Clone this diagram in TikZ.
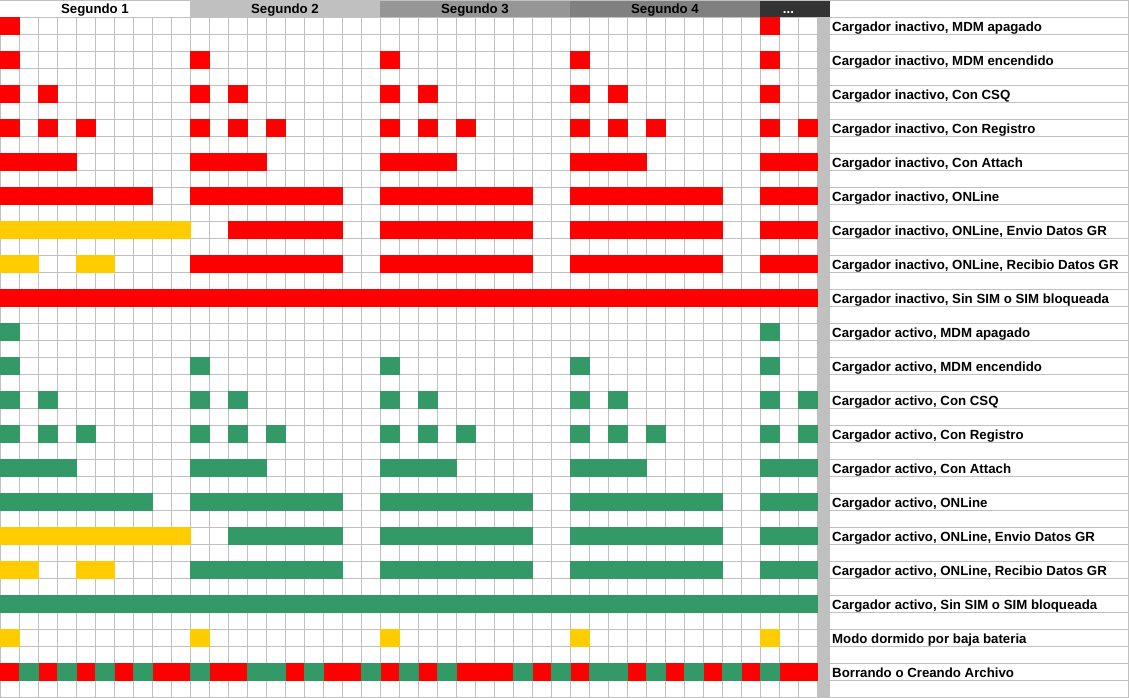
\documentclass[tikz,border=0pt]{standalone}
\usepackage{fontspec}
\setmainfont{Liberation Sans}
\definecolor{gridgray}{HTML}{C0C0C0}
\definecolor{segB}{HTML}{C0C0C0}
\definecolor{segC}{HTML}{969696}
\definecolor{segD}{HTML}{808080}
\definecolor{segX}{HTML}{333333}
\definecolor{cred}{HTML}{FF0000}
\definecolor{cgreen}{HTML}{339966}
\definecolor{cyellow}{HTML}{FFCC00}
% fill a run of cells: {colour}{state row}{first column}{last column}
\newcommand\cellrun[4]{\fill[#1] ({19*(#3)},{17+34*(#2)}) rectangle ({19*(#4+1)+1},{35+34*(#2)});}
\begin{document}
\begin{tikzpicture}[x=1bp,y=-1bp,
  gridline/.style={draw=gridgray,line width=1bp},
  hdr/.style={anchor=base,inner sep=0pt,font=\fontsize{13.3}{16}\selectfont\bfseries},
  lbl/.style={anchor=base west,inner sep=0pt,font=\fontsize{13.3}{16}\selectfont\bfseries}]
\useasboundingbox (0,0) rectangle (1129,698);
\fill[white] (0,0) rectangle (1129,698);

% header band
\fill[segB] (190,0) rectangle (380,17);
\fill[segC] (380,0) rectangle (570,17);
\fill[segD] (570,0) rectangle (760,17);
\fill[segX] (760,0) rectangle (830,17);

% separator bar between timeline and legend
\fill[gridgray] (817,17) rectangle (830,698);

% grid lines
\foreach \k in {0,...,43} \draw[gridline] ({19*\k+0.5},17) -- ({19*\k+0.5},698);
\foreach \j in {1,...,41} {
  \draw[gridline] (0,{17*\j+0.5}) -- (818,{17*\j+0.5});
  \draw[gridline] (830,{17*\j+0.5}) -- (1129,{17*\j+0.5});
}
\draw[gridline] (0,0.5) -- (1129,0.5);
\draw[gridline] (1128.5,0) -- (1128.5,698);

% charger inactive (red) and charger active (green) states
\foreach \base/\c in {0/cred, 9/cgreen} {
  % MDM apagado
  \cellrun{\c}{\base}{0}{0}
  \cellrun{\c}{\base}{40}{40}
  % MDM encendido
  \foreach \s in {0,10,20,30,40} {\cellrun{\c}{\base+1}{\s}{\s}}
  % Con CSQ
  \foreach \s in {0,10,20,30} {\cellrun{\c}{\base+2}{\s}{\s}\cellrun{\c}{\base+2}{\s+2}{\s+2}}
  \cellrun{\c}{\base+2}{40}{40}
  % Con Registro
  \foreach \s in {0,10,20,30} {\foreach \d in {0,2,4} {\cellrun{\c}{\base+3}{\s+\d}{\s+\d}}}
  \cellrun{\c}{\base+3}{40}{40}
  \cellrun{\c}{\base+3}{42}{42}
  % Con Attach
  \foreach \s in {0,10,20,30} {\cellrun{\c}{\base+4}{\s}{\s+3}}
  \cellrun{\c}{\base+4}{40}{42}
  % ONLine
  \foreach \s in {0,10,20,30} {\cellrun{\c}{\base+5}{\s}{\s+7}}
  \cellrun{\c}{\base+5}{40}{42}
  % ONLine, Envio Datos GR
  \cellrun{cyellow}{\base+6}{0}{9}
  \cellrun{\c}{\base+6}{12}{17}
  \foreach \s in {20,30} {\cellrun{\c}{\base+6}{\s}{\s+7}}
  \cellrun{\c}{\base+6}{40}{42}
  % ONLine, Recibio Datos GR
  \cellrun{cyellow}{\base+7}{0}{1}
  \cellrun{cyellow}{\base+7}{4}{5}
  \foreach \s in {10,20,30} {\cellrun{\c}{\base+7}{\s}{\s+7}}
  \cellrun{\c}{\base+7}{40}{42}
  % Sin SIM o SIM bloqueada
  \cellrun{\c}{\base+8}{0}{42}
}
% Cargador activo, Con CSQ has a second pulse in the last block
\cellrun{cgreen}{11}{42}{42}

% Modo dormido por baja bateria
\foreach \s in {0,10,20,30,40} {\cellrun{cyellow}{18}{\s}{\s}}

% Borrando o Creando Archivo
\foreach \a/\b in {0/0,2/2,4/4,6/6,8/9,11/12,15/15,17/18,20/20,22/22,24/26,28/28,30/30,33/33,35/35,37/37,39/39,41/42}
  {\cellrun{cred}{19}{\a}{\b}}
\foreach \a/\b in {1/1,3/3,5/5,7/7,10/10,13/14,16/16,19/19,21/21,23/23,27/27,29/29,31/32,34/34,36/36,38/38,40/40}
  {\cellrun{cgreen}{19}{\a}{\b}}

% header texts
\node[hdr] (h1) at (95,13.5) {Segundo 1};
\node[hdr] (h2) at (285,13.5) {Segundo 2};
\node[hdr] (h3) at (475,13.5) {Segundo 3};
\node[hdr] (h4) at (665,13.5) {Segundo 4};
\node[hdr,text=white] (hx) at (788.5,13.5) {...};

% legend
\foreach \t [count=\i from 0] in {
  {Cargador inactivo, MDM apagado},
  {Cargador inactivo, MDM encendido},
  {Cargador inactivo, Con CSQ},
  {Cargador inactivo, Con Registro},
  {Cargador inactivo, Con Attach},
  {Cargador inactivo, ONLine},
  {Cargador inactivo, ONLine, Envio Datos GR},
  {Cargador inactivo, ONLine, Recibio Datos GR},
  {Cargador inactivo, Sin SIM o SIM bloqueada},
  {Cargador activo, MDM apagado},
  {Cargador activo, MDM encendido},
  {Cargador activo, Con CSQ},
  {Cargador activo, Con Registro},
  {Cargador activo, Con Attach},
  {Cargador activo, ONLine},
  {Cargador activo, ONLine, Envio Datos GR},
  {Cargador activo, ONLine, Recibio Datos GR},
  {Cargador activo, Sin SIM o SIM bloqueada},
  {Modo dormido por baja bateria},
  {Borrando o Creando Archivo}}
  \node[lbl] (l\i) at (832,{31.5+34*\i}) {\t};
\end{tikzpicture}
\end{document}
